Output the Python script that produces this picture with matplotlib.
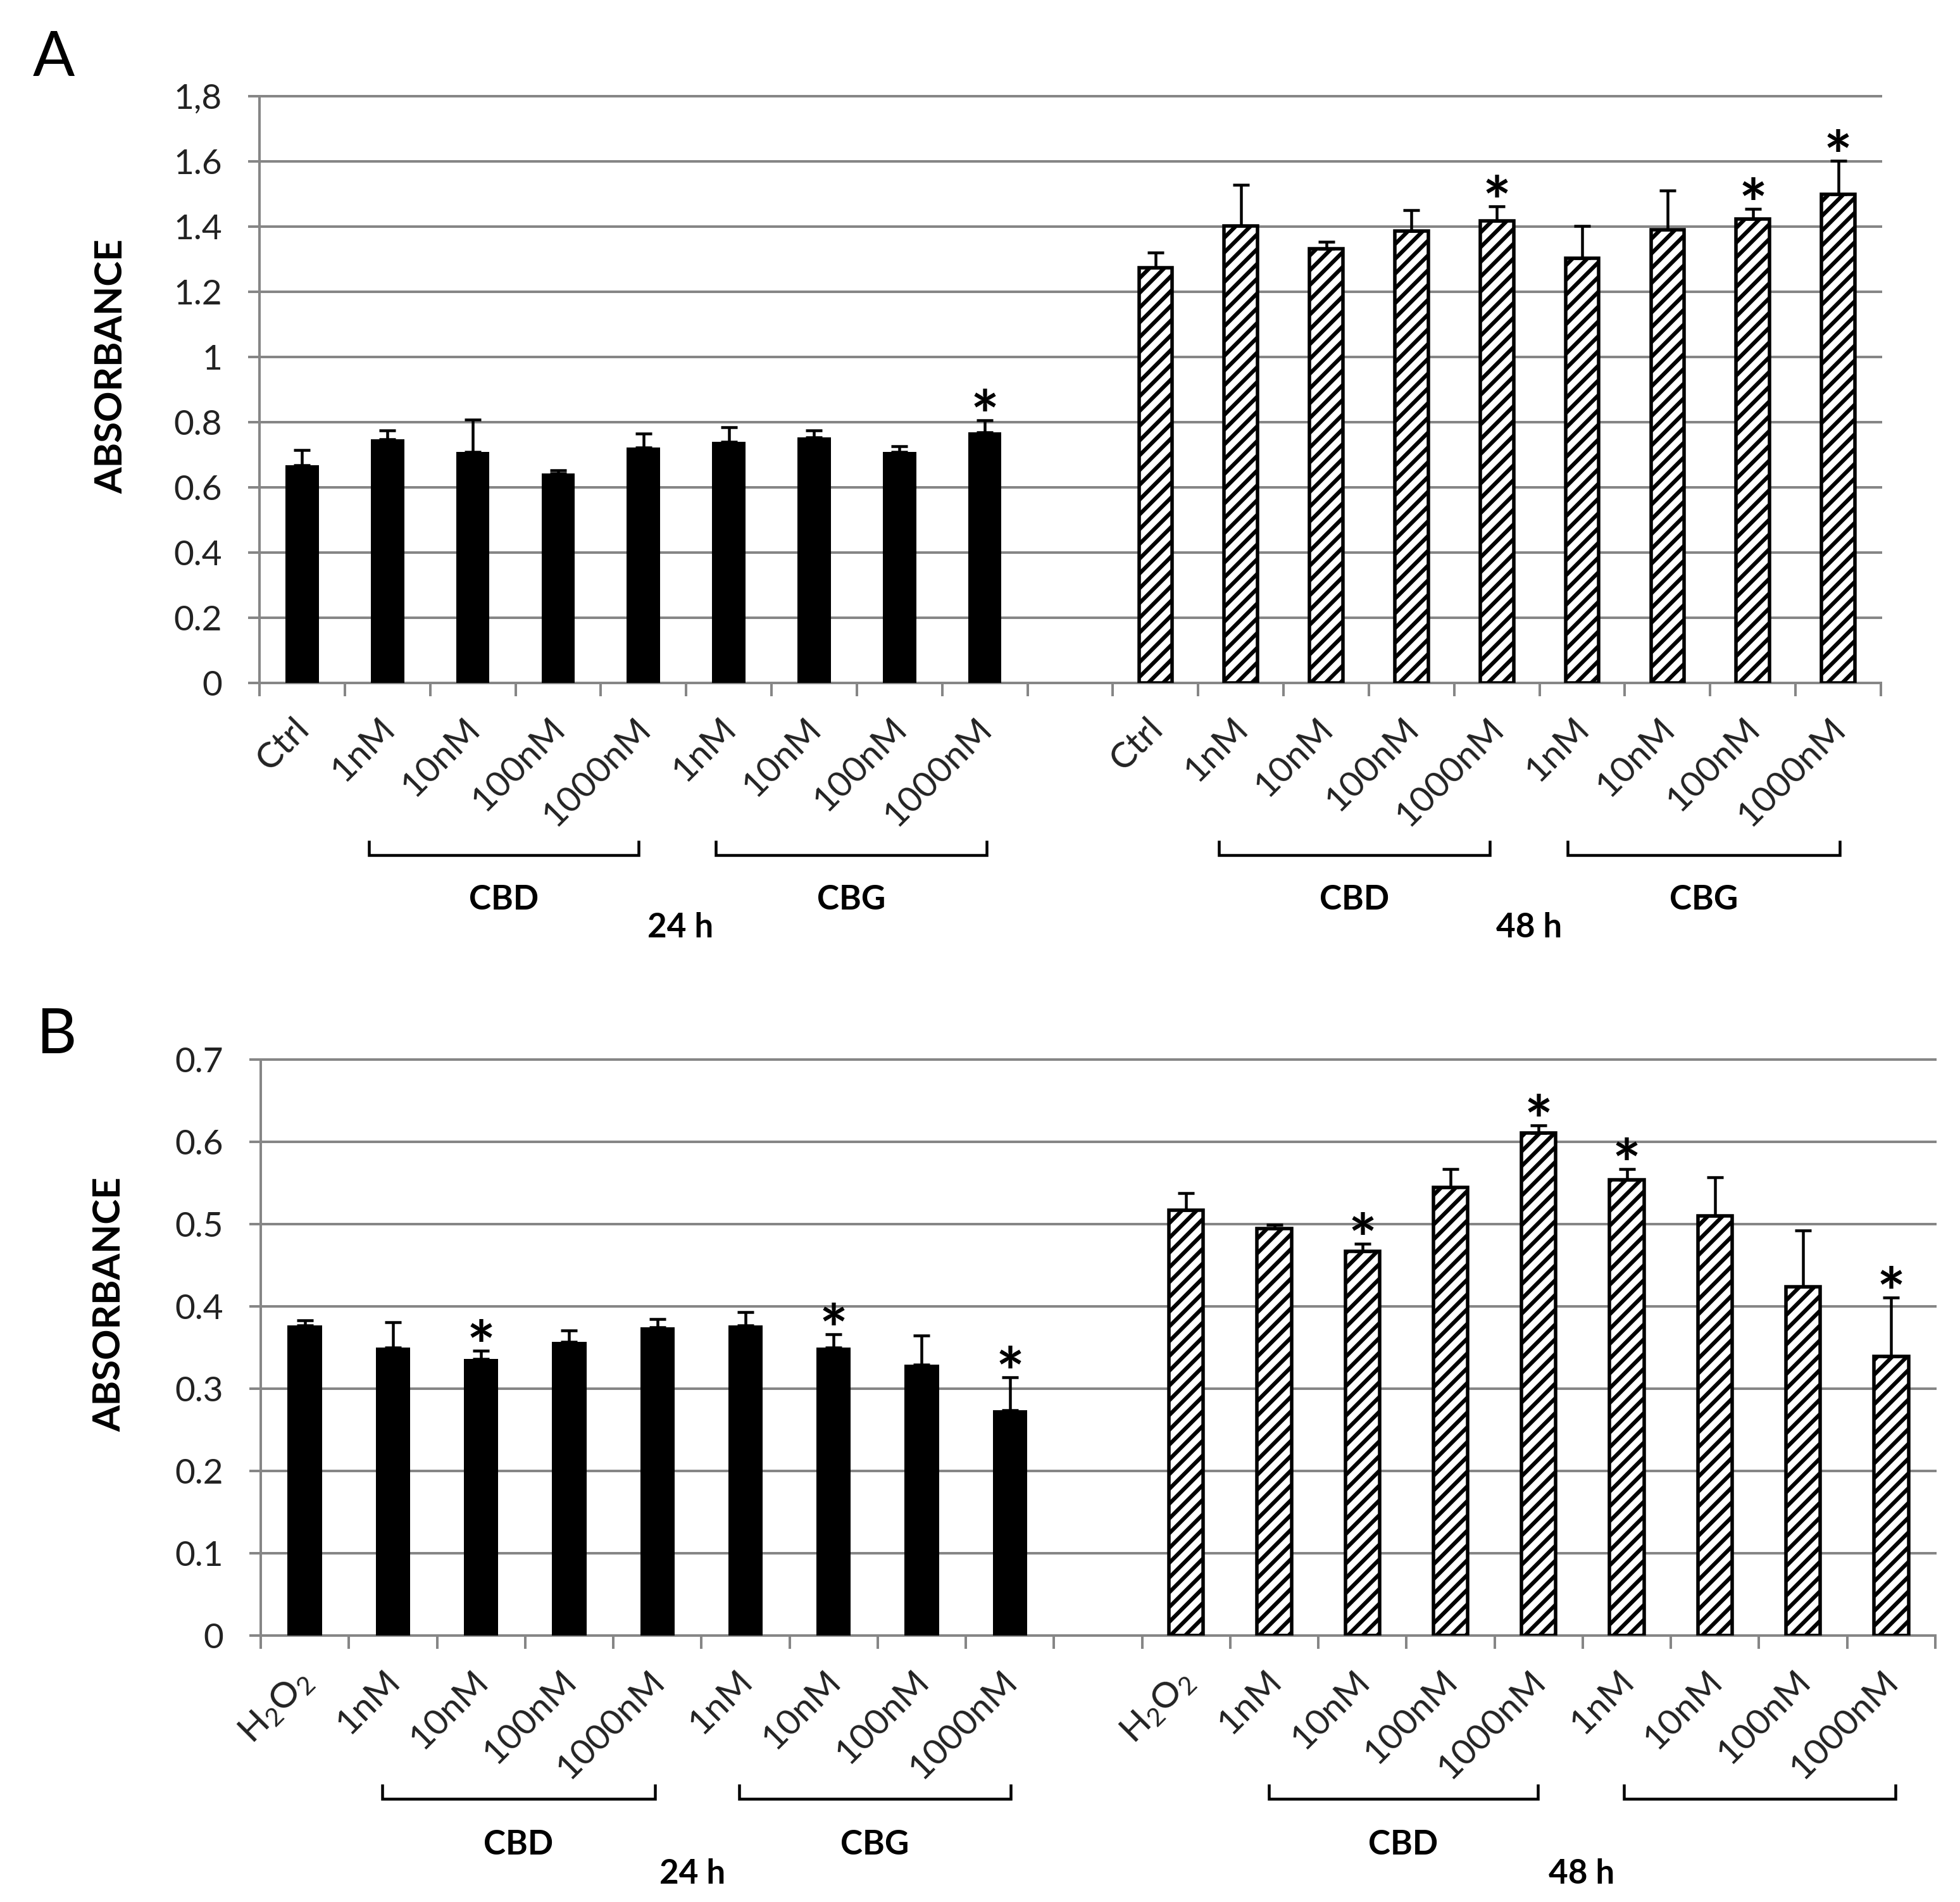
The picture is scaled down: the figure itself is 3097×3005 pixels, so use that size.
import numpy as np
import matplotlib
matplotlib.use("Agg")
import matplotlib.pyplot as plt
import matplotlib.transforms as mtransforms
from matplotlib.lines import Line2D

# ---------------- data ----------------
conc_labels = ["1nM", "10nM", "100nM", "1000nM"]
labels_A = ["Ctrl"] + conc_labels + conc_labels
labels_B = [r"H$_2$O$_2$"] + conc_labels + conc_labels

yticks_A = [0, 0.2, 0.4, 0.6, 0.8, 1.0, 1.2, 1.4, 1.6, 1.8]
ytick_labels_A = ["0", "0.2", "0.4", "0.6", "0.8", "1", "1.2", "1.4", "1.6", "1,8"]
yticks_B = [0, 0.1, 0.2, 0.3, 0.4, 0.5, 0.6, 0.7]
ytick_labels_B = ["0", "0.1", "0.2", "0.3", "0.4", "0.5", "0.6", "0.7"]

A_24_mean = [0.667, 0.747, 0.708, 0.643, 0.723, 0.739, 0.754, 0.708, 0.769]
A_24_err = [0.048, 0.028, 0.100, 0.009, 0.042, 0.045, 0.021, 0.018, 0.037]
A_48_mean = [1.274, 1.401, 1.332, 1.386, 1.417, 1.302, 1.391, 1.424, 1.499]
A_48_err = [0.047, 0.128, 0.022, 0.065, 0.045, 0.099, 0.119, 0.030, 0.103]
A_24_star = [8]
A_48_star = [4, 7, 8]

B_24_mean = [0.377, 0.350, 0.336, 0.357, 0.375, 0.377, 0.350, 0.329, 0.274]
B_24_err = [0.006, 0.031, 0.010, 0.014, 0.010, 0.016, 0.016, 0.036, 0.040]
B_48_mean = [0.517, 0.495, 0.467, 0.545, 0.611, 0.554, 0.510, 0.424, 0.339]
B_48_err = [0.021, 0.004, 0.009, 0.022, 0.009, 0.013, 0.047, 0.068, 0.072]
B_24_star = [2, 6, 8]
B_48_star = [2, 4, 5, 8]

group_names = ["CBD", "CBG"]
time_names = ["24 h", "48 h"]

# ---------------- style ----------------
W, H, DPI = 3097, 3005, 140


def pt(px):
    return px * 72.0 / DPI


FONT = "Lato"
plt.rcParams["font.family"] = [FONT, "DejaVu Sans"]
plt.rcParams["mathtext.fontset"] = "custom"
plt.rcParams["mathtext.rm"] = FONT
plt.rcParams["mathtext.it"] = FONT
plt.rcParams["hatch.linewidth"] = pt(6.3)
plt.rcParams["hatch.color"] = "black"

GRAY = "#868686"
fig = plt.figure(figsize=(W / DPI, H / DPI), dpi=DPI)
fig.patch.set_facecolor("white")


def fx(px):
    return px / W


def fy(py):
    return 1 - py / H


def make_panel(box, ylim, yticks, yticklabels, labels, m24, e24, m48, e48,
               s24, s48, brackets, bracket_y, name_y, time_y, time_x, show_names,
               ylab_xy, letter, letter_xy):
    x0, x1, ytop, y0 = box
    ax = fig.add_axes([fx(x0), fy(y0), fx(x1) - fx(x0), (y0 - ytop) / H])
    n = 19
    ax.set_xlim(-0.5, n - 0.5)
    ax.set_ylim(*ylim)
    x24 = np.arange(9)
    x48 = np.arange(10, 19)
    zeros = np.zeros(9)
    ekw = dict(ecolor="black", elinewidth=pt(4.5), capsize=pt(13), capthick=pt(4.5), zorder=4)
    ax.bar(x24, m24, width=0.39, color="black", edgecolor="black", linewidth=0,
           yerr=[zeros, e24], error_kw=ekw, zorder=3)
    bars = ax.bar(x48, m48, width=0.39, facecolor="white", edgecolor="black",
                  linewidth=pt(5.5), hatch="//", yerr=[zeros, e48], error_kw=ekw, zorder=3)
    for b in bars:
        if hasattr(b, "set_hatch_linewidth"):
            b.set_hatch_linewidth(pt(6.3))

    # stars
    for xs, ms, es, ss in ((x24, m24, e24, s24), (x48, m48, e48, s48)):
        for idx in ss:
            ax.annotate("*", xy=(xs[idx], ms[idx] + es[idx]), xytext=(0, pt(-30)),
                        textcoords="offset points", ha="center", va="baseline",
                        fontsize=pt(106), fontweight="bold", zorder=5)

    # axes style
    for s in ["top", "right"]:
        ax.spines[s].set_visible(False)
    for s in ["left", "bottom"]:
        ax.spines[s].set_color(GRAY)
        ax.spines[s].set_linewidth(pt(4))
    ax.set_yticks(yticks)
    ax.set_yticklabels(yticklabels)
    ax.tick_params(axis="y", length=pt(18), width=pt(4), color=GRAY,
                   pad=pt(41), labelsize=pt(55), labelcolor="#222222")
    ax.set_xticks(np.arange(-0.5, n, 1.0))
    ax.set_xticklabels([])
    ax.tick_params(axis="x", length=pt(21), width=pt(4), color=GRAY)
    ax.yaxis.grid(True, color=GRAY, linewidth=pt(4))
    ax.set_axisbelow(True)
    for gl in ax.get_ygridlines():
        gl.set_clip_on(False)

    # rotated category labels
    off = mtransforms.ScaledTranslation(3 / DPI, -64 / DPI, fig.dpi_scale_trans)
    trans = mtransforms.blended_transform_factory(ax.transData, ax.transAxes) + off
    all_labels = labels + [""] + labels
    for i, lab in enumerate(all_labels):
        if lab:
            ax.text(i, 0, lab, transform=trans, rotation=45, rotation_mode="anchor",
                    ha="right", va="center", fontsize=pt(57), color="#222222")

    # brackets and group names
    btrans = mtransforms.blended_transform_factory(ax.transData, fig.transFigure)
    for (xa, xb), nm, show in zip(brackets, group_names * 2, show_names):
        yl = fy(bracket_y)
        yt = fy(bracket_y - 21)
        ax.add_line(Line2D([xa, xa, xb, xb], [yt, yl, yl, yt], transform=btrans,
                           color="black", linewidth=pt(4.5), clip_on=False,
                           solid_joinstyle="miter"))
        if show:
            ax.text((xa + xb) / 2, fy(name_y), nm, transform=btrans, ha="center",
                    va="baseline", fontsize=pt(53), fontweight="bold")
    for tx, tn in zip(time_x, time_names):
        ax.text(tx, fy(time_y), tn, transform=btrans, ha="center", va="baseline",
                fontsize=pt(53), fontweight="bold")

    fig.text(fx(ylab_xy[0]), fy(ylab_xy[1]), "ABSORBANCE", rotation=90, ha="center",
             va="center", fontsize=pt(60), fontweight="bold")
    fig.text(fx(letter_xy[0]), fy(letter_xy[1]), letter, ha="left", va="baseline",
             fontsize=pt(98))
    return ax


make_panel((410, 2972, 152, 1079), (0, 1.8), yticks_A, ytick_labels_A, labels_A,
           A_24_mean, A_24_err, A_48_mean, A_48_err, A_24_star, A_48_star,
           brackets=[(0.78, 3.94), (4.85, 8.02), (10.74, 13.92), (14.83, 18.02)],
           bracket_y=1351, name_y=1437, time_y=1481, time_x=[4.43, 14.38],
           show_names=[True, True, True, True],
           ylab_xy=(176, 579), letter="A", letter_xy=(52, 120))

make_panel((412, 3058, 1674, 2584), (0, 0.7), yticks_B, ytick_labels_B, labels_B,
           B_24_mean, B_24_err, B_48_mean, B_48_err, B_24_star, B_48_star,
           brackets=[(0.88, 3.97), (4.93, 8.01), (10.94, 13.99), (14.97, 18.05)],
           bracket_y=2842, name_y=2930, time_y=2976, time_x=[4.40, 14.49],
           show_names=[True, True, True, False],
           ylab_xy=(173, 2061), letter="B", letter_xy=(58, 1664))

fig.savefig("out.png", dpi=DPI, facecolor="white")
